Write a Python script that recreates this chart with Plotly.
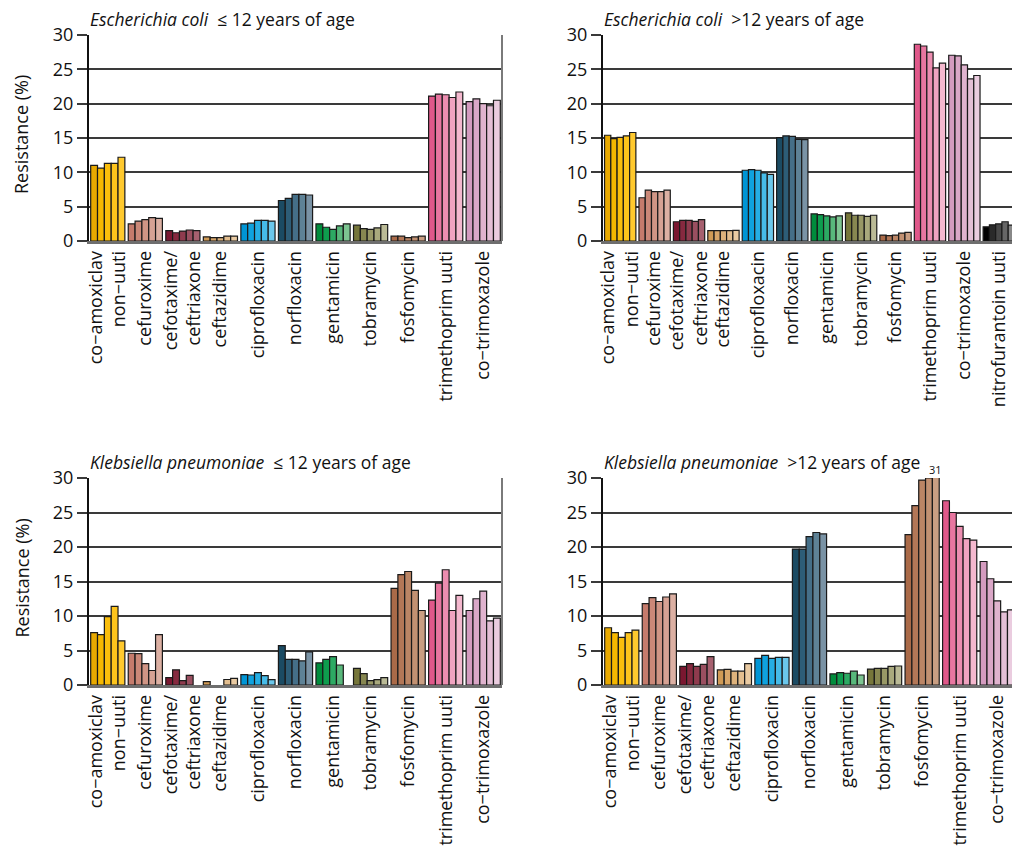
import plotly.graph_objects as go

# ---------------- data ----------------
years = ["y1", "y2", "y3", "y4", "y5"]

cats_base = ["co−amoxiclav<br>non−uuti", "cefuroxime", "cefotaxime/<br>ceftriaxone", "ceftazidime",
             "ciprofloxacin", "norfloxacin", "gentamicin", "tobramycin", "fosfomycin",
             "trimethoprim uuti", "co−trimoxazole"]
cats_ecoli_old = cats_base + ["nitrofurantoin uuti"]

ecoli_young = [
    [11.0, 10.6, 11.3, 11.3, 12.2],
    [2.5, 2.9, 3.1, 3.4, 3.3],
    [1.5, 1.2, 1.45, 1.6, 1.5],
    [0.6, 0.5, 0.5, 0.7, 0.7],
    [2.5, 2.6, 3.0, 3.0, 2.9],
    [5.9, 6.2, 6.8, 6.8, 6.7],
    [2.5, 2.0, 1.7, 2.2, 2.5],
    [2.3, 1.8, 1.7, 1.9, 2.4],
    [0.7, 0.7, 0.5, 0.6, 0.7],
    [21.1, 21.4, 21.3, 20.9, 21.7],
    [20.3, 20.7, 20.0, 19.7, 20.5],
]

ecoli_old = [
    [15.4, 14.9, 15.1, 15.3, 15.8],
    [6.3, 7.4, 7.2, 7.2, 7.4],
    [2.8, 3.0, 3.0, 2.85, 3.1],
    [1.5, 1.5, 1.5, 1.5, 1.55],
    [10.3, 10.4, 10.3, 9.9, 9.7],
    [15.05, 15.3, 15.25, 14.8, 14.75],
    [3.95, 3.85, 3.65, 3.5, 3.65],
    [4.1, 3.75, 3.75, 3.6, 3.75],
    [0.87, 0.77, 0.87, 1.16, 1.25],
    [28.65, 28.4, 27.5, 25.2, 25.9],
    [27.05, 26.95, 25.65, 23.6, 24.1],
    [2.07, 2.36, 2.5, 2.8, 2.3],
]

kleb_young = [
    [7.6, 7.3, 9.9, 11.4, 6.4],
    [4.6, 4.55, 3.1, 2.1, 7.3],
    [1.06, 2.2, 0.63, 1.4, None],
    [0.5, None, None, 0.8, 0.97],
    [1.5, 1.45, 1.8, 1.35, 0.77],
    [5.7, 3.7, 3.7, 3.5, 4.8],
    [3.2, 3.7, 4.1, 2.9, None],
    [2.4, 1.65, 0.63, 0.77, 1.06],
    [14.0, 16.0, 16.45, 13.7, 10.8],
    [12.3, 14.75, 16.7, 10.8, 13.0],
    [10.8, 12.5, 13.6, 9.3, 9.7],
]

kleb_old = [
    [8.3, 7.6, 6.9, 7.6, 7.95],
    [11.8, 12.65, 12.1, 12.75, 13.2],
    [2.7, 3.1, 2.7, 3.0, 4.1],
    [2.2, 2.25, 2.0, 2.0, 3.1],
    [3.85, 4.3, 3.85, 4.0, 4.0],
    [19.7, 19.7, 21.5, 22.1, 21.9],
    [1.6, 1.8, 1.7, 2.0, 1.45],
    [2.3, 2.4, 2.4, 2.7, 2.75],
    [21.8, 26.0, 29.7, 30.0, 31.0],
    [26.7, 25.0, 23.0, 21.2, 21.0],
    [17.9, 15.4, 12.2, 10.6, 10.9],
]

group_colors = [
    ["#E8A900", "#F5B700", "#FABE0C", "#FDC41C", "#FFC92E"],
    ["#C57B6C", "#CB8878", "#D09585", "#D6A294", "#DCB0A3"],
    ["#7A1730", "#86293F", "#8F3B4E", "#9A4F60", "#A6606F"],
    ["#D09A55", "#D8A66A", "#DDB27C", "#E3BE8F", "#E9CAA2"],
    ["#0095D5", "#0FA2DE", "#25AEE4", "#46BBE8", "#6BC7EB"],
    ["#1B4B63", "#2D5D77", "#456F88", "#5E8296", "#7A93A5"],
    ["#008C3C", "#0E9D4E", "#2CAA63", "#58B87B", "#7DC591"],
    ["#76763A", "#878751", "#989866", "#A9A97D", "#BABA96"],
    ["#AA6A48", "#B37757", "#BB8565", "#C29172", "#C99E82"],
    ["#E0588A", "#E876A0", "#EC8DB0", "#F0A3C0", "#F4B8CE"],
    ["#D49BBF", "#DAA7C7", "#DFB3CE", "#E4BFD6", "#EACCDF"],
    ["#000000", "#2A2A2A", "#484848", "#666666", "#888888"],
]

y_ticks = [0, 5, 10, 15, 20, 25, 30]

# ---------------- figure ----------------
OFF = 8                      # page body margin
W, H = 1020 - OFF, 859 - OFF
FONT = "Open Sans"
FS = 18
FT = 17.5
fig = go.Figure()


def px_x(p):
    return (p - OFF) / W


def px_y(p):
    return 1 - (p - OFF) / H


panels = [
    # (xaxis, yaxis, cats, values, x0px, x1px, ytop_px, ybot_px) in page pixels
    ("x", "y", cats_base, ecoli_young, 89, 502, 35, 241),
    ("x2", "y2", cats_ecoli_old, ecoli_old, 603, 1016, 35, 241),
    ("x3", "y3", cats_base, kleb_young, 89, 502, 478, 685),
    ("x4", "y4", cats_base, kleb_old, 603, 1016, 478, 685),
]

for i, (xa, ya, cats, vals, x0, x1, yt, yb) in enumerate(panels):
    for j in range(5):
        fig.add_trace(go.Bar(
            x=cats,
            y=[v[j] for v in vals],
            xaxis=xa, yaxis=ya,
            marker=dict(color=[group_colors[k][j] for k in range(len(cats))],
                        line=dict(color="#1a1a1a", width=1.2)),
            showlegend=False,
            name=years[j],
        ))
    sfx = "" if i == 0 else str(i + 1)
    fig.update_layout(**{
        "xaxis" + sfx: dict(
            domain=[px_x(x0), px_x(x1)], anchor=ya, automargin=False,
            tickangle=-90, showgrid=False,
            showline=True, linecolor="#6e6e6e", linewidth=2.5,
            ticks="", tickfont=dict(size=FS, color="#111", family=FONT),
            categoryorder="array", categoryarray=cats,
            range=[-0.5, len(cats) - 0.5],
        ),
        "yaxis" + sfx: dict(
            domain=[px_y(yb), px_y(yt)], anchor=xa, automargin=False,
            range=[0, 30], tickvals=y_ticks,
            showgrid=True, gridcolor="#3a3a3a", gridwidth=1.5,
            showline=True, linecolor="#111", linewidth=2,
            ticks="outside", ticklen=10, tickcolor="#3a3a3a", tickwidth=1.5,
            tickfont=dict(size=FS, color="#111", family=FONT),
            zeroline=False,
        ),
    })
    # right-hand frame line (grey)
    fig.add_shape(type="line", xref=xa + " domain", yref=ya + " domain",
                  x0=1, x1=1, y0=0, y1=1, line=dict(color="#7a7a7a", width=2))
    if i in (0, 2):
        fig.add_annotation(text="Resistance (%)", xref="paper", yref="paper",
                           x=px_x(21), y=px_y((yt + yb - 6) / 2), textangle=-90,
                           xanchor="center", yanchor="middle", showarrow=False,
                           borderpad=0,
                           font=dict(size=FS, color="#111", family=FONT))

titles = [
    ("<i>Escherichia coli</i>  ≤ 12 years of age", 89, 19),
    ("<i>Escherichia coli</i>  >12 years of age", 603, 19),
    ("<i>Klebsiella pneumoniae</i>  ≤ 12 years of age", 89, 462),
    ("<i>Klebsiella pneumoniae</i>  >12 years of age", 603, 462),
]
for txt, xp, yp in titles:
    fig.add_annotation(text=txt, xref="paper", yref="paper", x=px_x(xp), y=px_y(yp),
                       xanchor="left", yanchor="middle", showarrow=False, borderpad=0,
                       font=dict(size=FT, color="#111", family=FONT))

# label for clipped bar
fig.add_annotation(text="31", xref="x4", yref="y4", x=8.36, y=30, yanchor="bottom",
                   xanchor="center", yshift=0, showarrow=False, borderpad=0,
                   font=dict(size=11, color="#111", family=FONT))

fig.update_layout(
    width=W, height=H,
    margin=dict(l=0, r=0, t=0, b=0),
    paper_bgcolor="white", plot_bgcolor="white",
    barmode="group", bargap=0.09, bargroupgap=0,
    font=dict(family=FONT, color="#111"),
)

fig.write_html("out.html")
